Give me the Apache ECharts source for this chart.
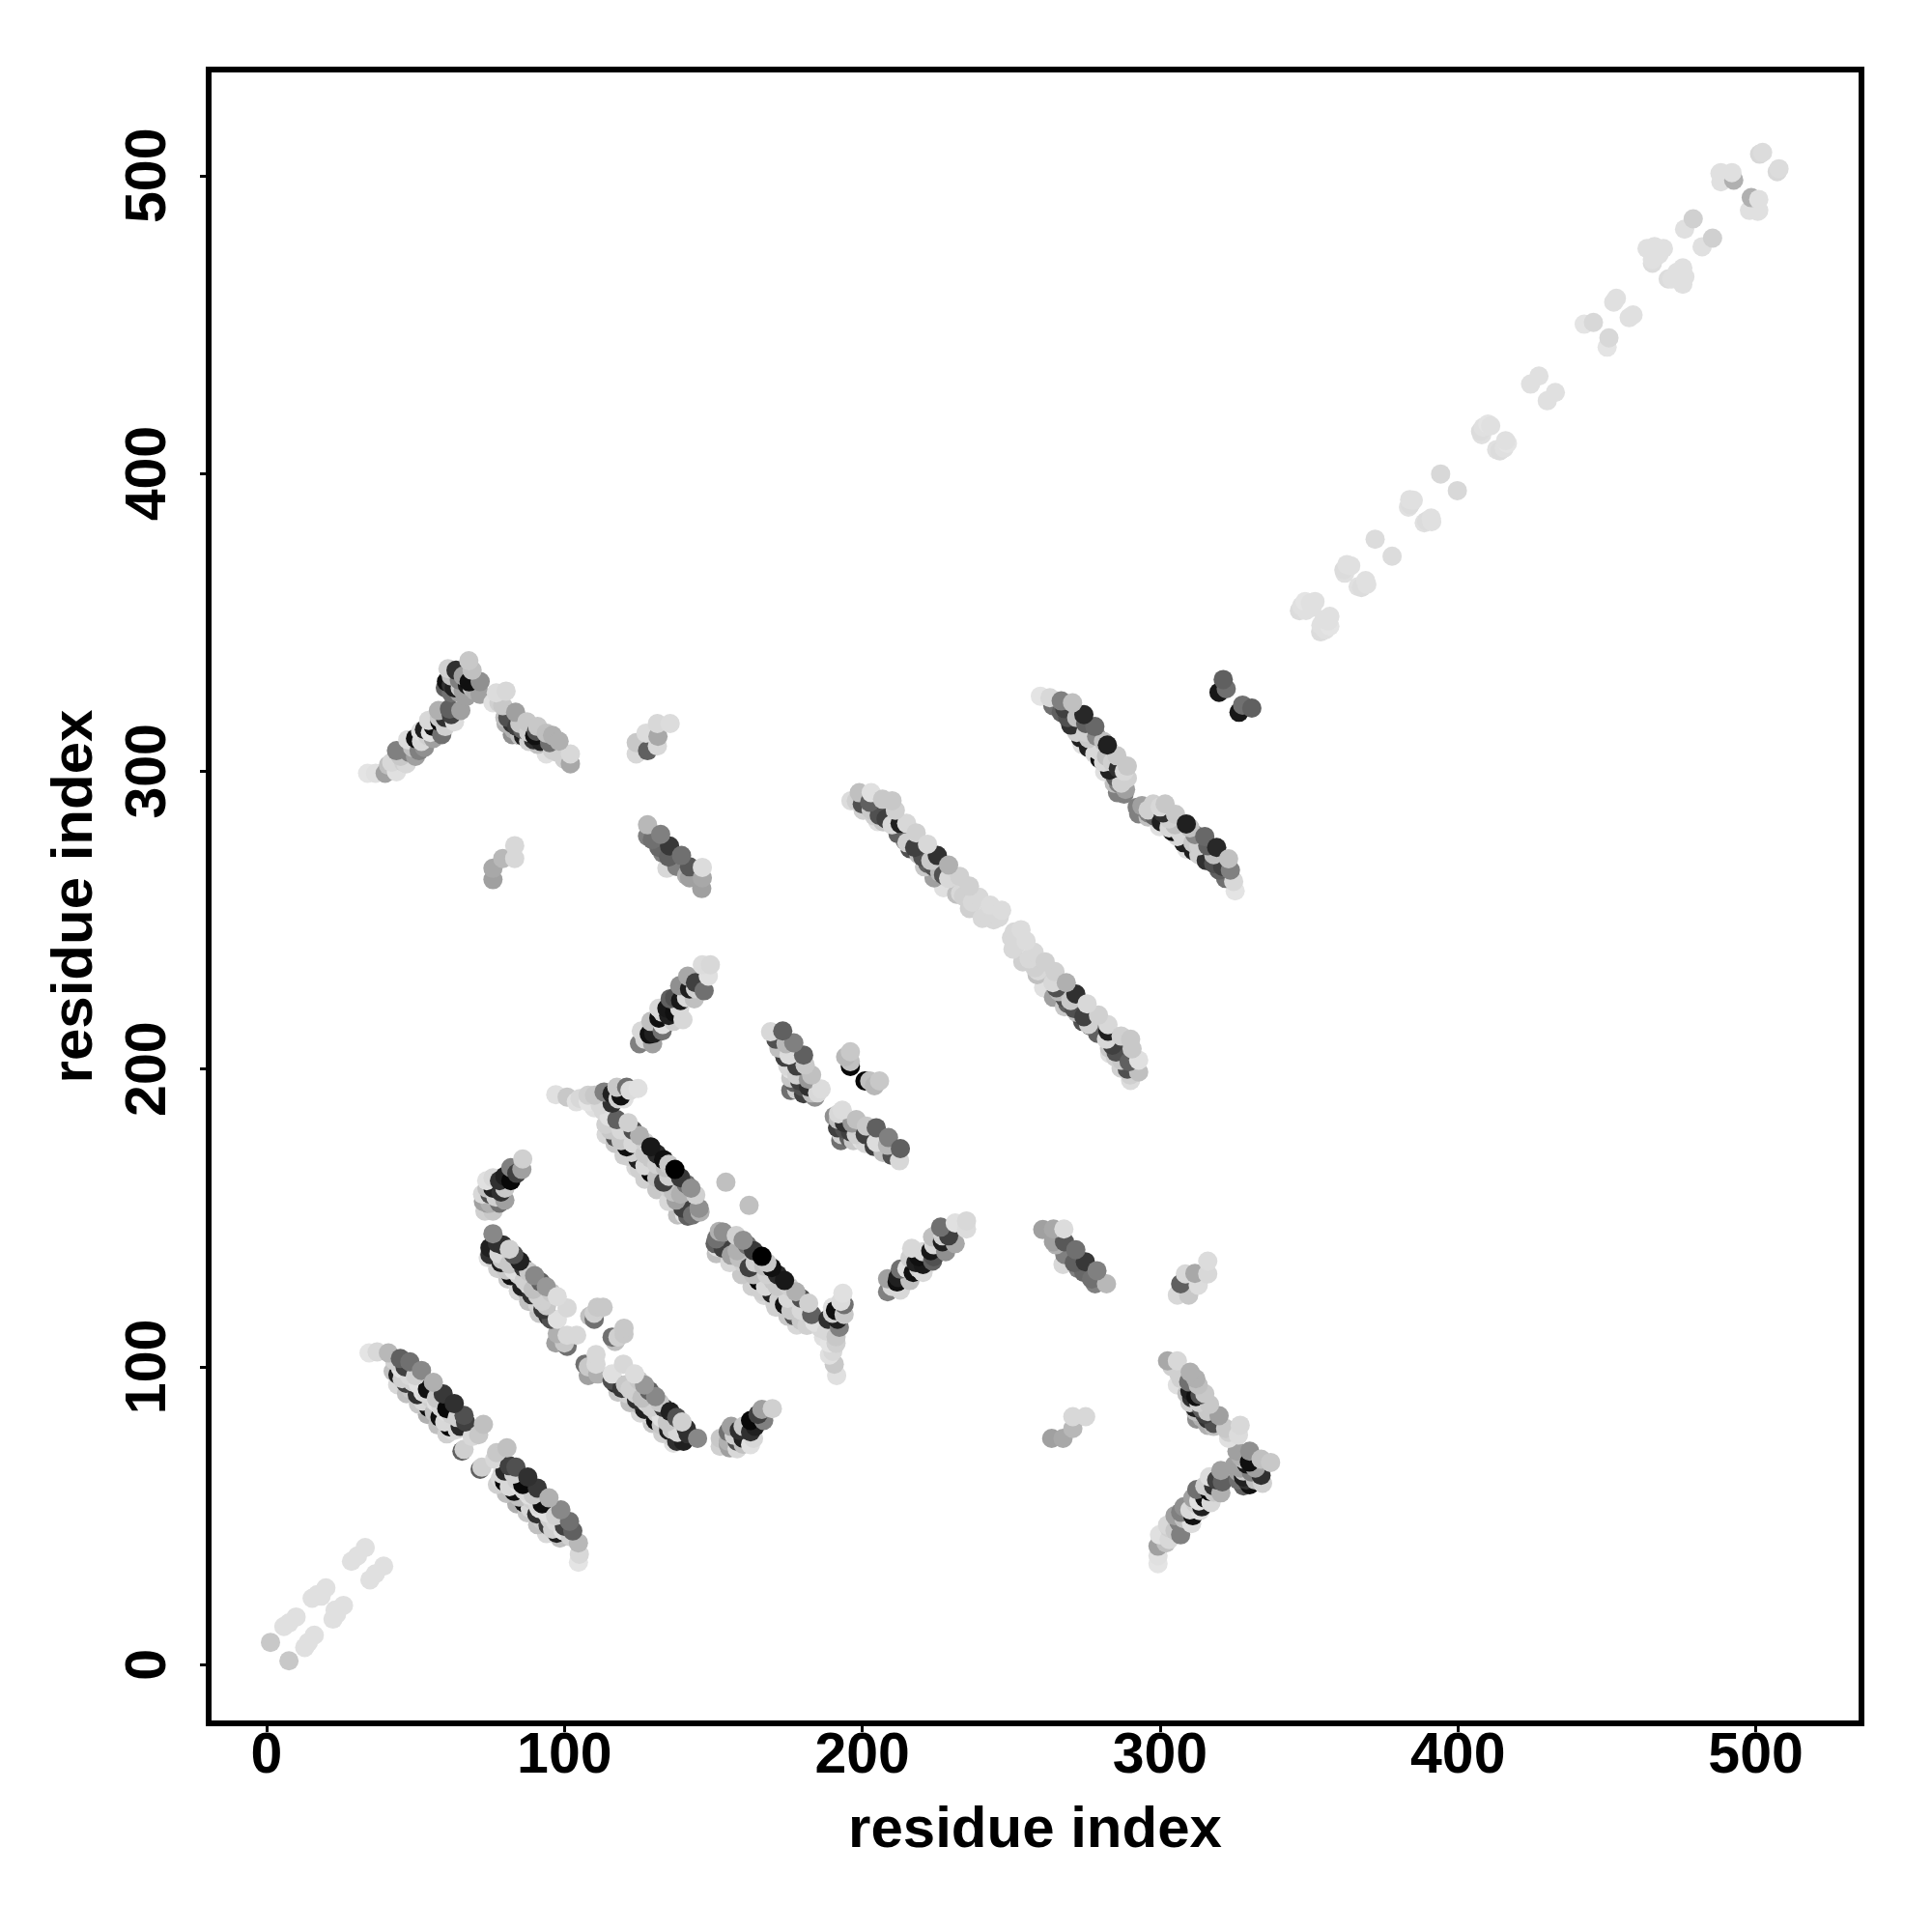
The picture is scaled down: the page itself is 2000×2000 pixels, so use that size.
<!DOCTYPE html>
<html><head><meta charset="utf-8">
<style>html,body{margin:0;padding:0;background:#fff}#c{width:2000px;height:2000px}</style>
<script src="https://cdn.jsdelivr.net/npm/echarts@6/dist/echarts.min.js"></script>
</head><body><div id="c"></div>
<script>
// each contact: [residue i, residue j, shade 0-255]; the map is symmetric so each contact is listed once
const tickLabels = [0,100,200,300,400,500];
const strandA = [
[44,94,0xd8],[47,91,0xc0],[51,87.5,0xc8],[54,84,0xb0],[57.5,80.5,0xc0],[60.5,77.5,0xd0],
[44.1,97.4,0x20],[46.8,94.5,0x40],[50.6,90.7,0x30],[54.4,86.4,0x10],[58.2,83.1,0x10],[61.4,79.9,0x05],
[43,102,0xd0],[45,99.5,0xe0],[48,97,0xd8],[51,94,0xe0],[53.6,91,0xd8],[57,88,0xe0],[60,85,0xe0],[63,82,0xd8],
[46.5,100,0x40],[50,97,0xd0],[54,92.5,0x10],[57,89.5,0xc8],[60.5,86,0x08],[64,83,0xd0],
[34.4,104.7,0xe4],[37.1,105,0xd8],[40.9,104.7,0xb8],[44.9,102.8,0x60],[48.1,101.7,0x70],[52,98.8,0x88],[56,94.8,0xb0],[59.3,90.9,0x38],[63,87.7,0x30],[66.3,83.7,0x50],[66.8,81.5,0x40],
[72.8,80.7,0xc0],[71.2,77.2,0xc8],[69,76.6,0xd8],[65.6,71.7,0x60],[66.3,72.3,0xd0],
[42.5,98.5,0xc0],[45.5,96,0xd0],[48.5,92.5,0xc8],[52.5,88.5,0xd8],[56.3,84.8,0xc0],[59.8,81.5,0xd8],[62.5,78.5,0xd8],[49,95,0xd0],[52.5,91.5,0xe0],[55.5,89,0xd0],[58.5,86.5,0xd8],[62,84,0xd0],[65,80,0x28],[64,79,0xd8]];
const strandB = [
[74.4,136.6,0xe0],[77.6,133,0xd0],[81,129.5,0xc8],[84.5,125.5,0xd8],[88,122,0xc0],[91.5,118,0xc8],
[75,137.7,0x30],[75,140,0x20],[78.7,135,0x20],[82,130.6,0x10],[85.7,126.9,0x20],[89,124.2,0x30],[92.8,119.3,0x38],
[78,138,0xd8],[81.5,134.5,0xc8],[84.5,131,0xd0],[88,127.5,0xd8],[91,124,0xd0],[94,120.5,0xc8],
[76,144.7,0x88],[79.3,140.9,0x30],[83,137.7,0x50],[86.3,133.3,0x38],[90,130.6,0x88],[93.9,126.9,0x98],[97.6,123.6,0xdc],[100.9,119.8,0xd8],[97.6,116,0xe0],
[97.1,108,0xa0],[100.9,106.9,0x70],[100,108,0xc8],[97.6,111.2,0xb0],[100.9,110.6,0xd8],[104.1,110.6,0xd8],
[76.5,136,0xd0],[80.5,132.5,0xc8],[84,128.5,0xd8],[87.5,125,0xc0],[91,121,0xd0],[94.5,117,0x30],[95.5,116,0x50],[79,136,0xc8],[83,132.5,0xe0],[86.5,129,0xd0],[89.5,126,0xc0],[92.5,122,0xd0],[77.5,141.5,0x30],[81.5,139.5,0xd0],[85,135.5,0x20],[88,132,0xc8],[92,128.5,0x60],[95.5,125,0xc8]];
const spurB = [[110,116,0x70],[110,118,0xd0],[111,120,0xc8],[113,120,0xc8],[108.5,117,0xc0]];
const strandD = [[76,152.3,0xc8],[73.3,152.3,0xd0],[72.8,155.5,0xa0],[75,155,0xb0],[78.2,155,0x70],[72.5,158,0xd8],[75,158,0x50],[78.7,158.7,0x30],[73.9,162.5,0xe0],[78.2,162.5,0x30],[82,162.5,0x08],[82,166.9,0x80],[85.7,166.3,0xa0],[86,169.8,0xd0],
[74,160,0xc0],[76,160,0x20],[80,160,0xc8],[84,165,0x40],[77,157,0xd0],[74,155,0xa0],[80,156,0xa0],[76,163.5,0xd8],[80,164,0x20]];
const strandC = [
[114,178,0xd8],[117,175,0xc8],[120,171,0xd0],[124,167,0xd8],[127,163,0xd0],[131,159.5,0xc8],[135,155.5,0xd8],[138,151,0xc0],
[113.9,181.4,0xd0],[117.1,177.1,0x50],[120.9,173.9,0x10],[124.7,169.6,0x20],[129,165.2,0x00],[133.3,162,0x40],[139.8,153.3,0x40],[141.4,150.6,0x60],
[121.4,170.6,0xd0],[125.2,166.3,0xd0],[129,170,0xc8],[133.9,166.9,0xc0],[136.6,158.7,0xc0],[140.3,151.2,0xe0],[143,151,0x70],
[97.1,191.4,0xe0],[100.9,190.6,0xc8],[105.2,190.1,0xd8],[107.9,191.2,0xd0],[110.1,191.2,0xc8],[113.3,192.3,0x80],[116,191.7,0x20],[117.6,193.9,0xc8],[120.9,193.9,0x70],[122,192.8,0xdc],[124.7,193.5,0xe0],
[110,187,0xe0],[113,186,0xd8],[115,184,0xe0],
[117.6,183,0x60],[121.4,182,0xd0],[125.2,177.7,0xb0],[129,173.9,0x18],[133.3,169.6,0x10],[137.1,166.3,0x00],[140.9,161.4,0x70],[144.1,157.7,0xd0],[145.2,153.3,0x90],[145.5,152,0xb0],
[115.5,179.5,0xc8],[119,176,0xc8],[122.5,172,0xd0],[127,167.5,0xd8],[131,163.5,0xc0],[135,160,0xd0],[137.5,156,0xa0],[119,179.5,0xd8],[123,175,0xd8],[127,171.5,0xc8],[131,168,0xd0],[135,164,0xd0],[139,158,0xb0],[123,179.5,0x50],[127,175.5,0xd0],[131,171.5,0x28],[135,168,0xc8],[139,163.5,0x38],[142.5,160,0x90],
[104,189,0xe0],[108,189,0xe4],[112,188,0xd8],[116,188.5,0x30],[118,190,0xd0],[120,190,0xe0],[119,191,0x10]];
const spurC = [[154.2,162,0xc0]];
const strandE = [
[125.2,208.5,0x80],[129.6,208.5,0xa0],[128.5,211.7,0x10],[125.8,212.8,0xd8],[132.8,212.8,0x70],[129,216,0xc0],[131.7,217.1,0x10],[136.6,216,0xd0],[139.8,216.6,0xd8],[134.4,220.4,0x18],[131.7,220.4,0xd8],[138.7,220.4,0xd8],[135.5,223.6,0x60],[143.6,223.6,0xc0],[142,226.9,0x20],[146.9,226.3,0x70],[138.7,228,0x90],[141.4,231.2,0xa8],[148.3,231.2,0xe0],[146.3,235,0xdc],[149,235,0xd8],
[127,210,0xd8],[130,212,0x20],[133,215,0xe0],[135,218,0x20],[137,219,0x10],[139,223,0x18],[141,224,0xd8],[144,227,0xd0],[144,229,0x40],[137,224,0x50],[133,219,0xd0]];
const strandF = [
[176,192.8,0x70],[180.3,191.7,0x40],[184.1,190.6,0x90],[177,195.5,0x60],[186.2,193.3,0xdc],[181.9,196.6,0x98],[178,193,0xd0],
[176,199.8,0xe0],[180.8,201.4,0xc8],[175.4,204.7,0xdc],[180.3,204.7,0x60],[174.4,208.5,0xb8],[177,208.8,0x80],[169.2,212.5,0xd8],[173.3,212.8,0x60],
[171,210,0x50],[172,207,0xc0],[174,204,0x40],[175,201,0xd8],[178,201,0x40],[176,197,0xc8],[178,198,0xd0],[180,194,0x50],[183,192,0xc0],[179,196,0x40],[182,194,0x30],[183,198,0xc0],[185,192,0xd8]];
const spurF = [[196,200.9,0x08],[196,202.5,0xc0],[194.4,204.1,0xb8],[196,205.8,0xc8]];
const strandG = [
[200.3,286.9,0xd0],[205.2,283.1,0xe0],[202.5,289.6,0x60],[205.7,285.2,0x50],[212.7,282.5,0x20],[214.4,276.6,0x80],[217.6,274.4,0x40],[220.3,271.2,0x50],[220.9,267.9,0xc8],[224.1,267.9,0x50],[224.1,264.2,0xa0],[227.3,265.2,0x50],[227.3,260.9,0xe0],[231.7,258.7,0xc0],[236,253.9,0xd0],[240.3,250.6,0xd8],[244.1,250.1,0xd8],
[196.2,290.1,0xdc],[199,292.8,0xc0],[203,292.8,0xe0],[206.8,290.6,0xc8],[210,290.1,0xc8],[211.1,286.9,0xd0],[214.9,282.5,0xd8],[218.1,279.3,0xd0],[221.9,275.5,0xd8],[225.2,271.7,0x30],[229,268.5,0xb0],[232.7,264.7,0xd0],[236,261.4,0xd0],[239.2,257.7,0xd8],[243,255,0xdc],[246.8,253.3,0xdc],
[198,290,0xd0],[200,289,0x50],[203,287,0xc8],[207,283,0xc8],[208,284,0x40],[210,282,0xd8],[212,279,0x60],[215,276,0xd0],[216,274,0x50],[219,272,0xc0],[222,269,0x60],[223,270,0xc8],[226,266,0xb8],[229,264,0xd8],[233,259,0xd8],[234,258,0xd0],[237,256,0xd8],[242,252,0xd8],[246,251,0xd8],[204,285,0xd0]];
const strandH = [[134.4,267.4,0xd8],[127.9,278.2,0x80],[131.7,274.4,0x68],[135,271.2,0x60],[137.7,268,0x80],[142,264.2,0xa0],[146.1,260.6,0xa0],[146.3,264.2,0xa8],[127.9,282,0xb8],[132.3,278.8,0x80],[135.3,274.9,0x38],[139.3,271.7,0x70],[142,267.9,0x58],[146.3,267.7,0xdc],[129.5,277,0x70],[133,272.5,0x80],[141,265,0xb0]];
const strandI = [[76,263.6,0xa0],[76,267.4,0xa8],[79.3,270.7,0xb8],[83.3,270.7,0xd8],[83.3,275,0xd8]];
const strandJ1 = [
[33.9,299.3,0xe4],[36.6,299.3,0xe0],[39.8,299.3,0xa0],[40.9,302,0xc0],[43.6,299.8,0xe0],[46.9,302.5,0xd8],[43.6,306.9,0x80],[47.9,306.3,0x80],[47.4,310.6,0xdc],[51.2,306.9,0x80],[50,311,0x10],[51.7,313.4,0xe0],[58.8,312.3,0x70],[54.4,317.1,0xd8],[58.2,316.6,0x08],[63.1,316.6,0xdc],[57.7,320.4,0xb0],[61.4,320.9,0x60],[65.2,320.4,0xa0],
[62,326.3,0x70],[64.7,326.3,0xa0],[60.4,330.1,0x10],[64.7,330.6,0x80],[67.4,329,0x18],[60.9,334.4,0xd0],[63.6,333.9,0x30],[71.7,325.8,0xa0],[69,333.9,0xc0],[71.7,330.1,0x90],[67.9,337.1,0xc8],
[42,303,0xd8],[45,305,0xc8],[46,303,0xd0],[49,308,0xc0],[50,305,0xa0],[52,310,0xd8],[53,308,0x90],[54,312,0xd0],[56,311,0xa0],[53,314,0x20],[56,315,0x10],[55,313,0xe0],[58,318,0xc8],[60,318,0x30],[60,315,0xd0],[62,319,0x40],[62,329,0x30],[62,332,0xc0],[60,328,0x60],[63,328,0x20],[65,328,0xc8],[66,332,0xa0],[66,327,0xa0],[68,330,0x10],[69,328,0xc0],[70,327,0xb0],[67,325,0xa0]];
const strandJ2 = [
[80.4,316,0xb0],[82.5,312.3,0x90],[82.5,316,0x30],[86.3,311.7,0x20],[89.6,310.6,0x30],[93.9,305.8,0xe0],[97.7,306.3,0xd0],[102,302.5,0xa8],
[77.1,326.3,0xdc],[79.3,322,0xc8],[80.4,326.9,0xd8],[83.6,319.8,0xa0],[87.4,316.6,0xc8],[90.6,313.4,0x50],[93.9,312.8,0xc0],[95,309.6,0x70],[98.2,310.1,0xb0],[102,305.8,0xd8],
[76,323,0xe0],[78,323,0xd0],[81,318,0x50],[80,318,0xc0],[83,314,0xb0],[84,315,0x40],[85,312,0xc0],[85,316,0xc8],[86,314,0x60],[88,313,0xd0],[88,310,0xd0],[91,309,0xc0],[92,310,0x20],[90,312,0x10],[96,307,0xd0],[100,304,0xd0],[91,315,0xc8],[96,312,0xb0]];
const strandK = [[124.1,305.8,0xd8],[124.1,309.6,0xc8],[127.9,306.9,0x60],[131.2,308.5,0xd8],[127.4,312.8,0xdc],[131.4,311.7,0xa8],[131.2,316,0xd8],[135.5,316,0xdc]];
const strandL = [
[273.8,309,0xe0],[278.1,305.8,0xd8],[281.4,299.8,0xe0],[284.6,296,0xc0],[285.7,292.8,0x80],
[266.8,319.8,0x60],[270,315.5,0x30],[273.3,311.2,0x20],[276,307.9,0x20],[279.8,304.1,0x10],[283,300.4,0x20],
[259.8,325.2,0xe4],[263,324.7,0xd8],[266.8,323.6,0x80],[270.6,323,0xc0],[274.4,319,0x28],[278.1,315,0x68],[278.7,311.7,0x88],[282.3,308.8,0x20],[285.5,305.2,0xc8],[289,301.7,0xc8],[289,297.7,0xd0],[287.9,292.3,0x80],[288.4,293.9,0xa0],
[264,322,0x70],[268,321,0x40],[269,318,0x50],[272,318,0xc0],[272,313,0xd0],[275,313,0xd0],[276,311,0xc8],[275,316,0x60],[279,307,0xd8],[281,303,0xd8],[282,305,0xc0],[284,303,0xd0],[281,310,0xc0],[284,299,0xd0],[286,301,0x30],[285,298,0x60],[287,296,0xd0],[286,296,0x80],[288,300,0xd8]];
const strandM = [[319.8,326.5,0x18],[322.2,327.7,0x70],[321.2,330.8,0x60]];
const nearDiagonal = [
[1.3,7.5,0xc8],[5.8,12.8,0xe0],[7.5,14,0xe0],[9.9,16,0xe0],[15.3,22.3,0xe0],[17,23.5,0xe0],[18.3,23,0xe0],[19.9,25.8,0xe0],[28.5,34.7,0xe0],[30.5,36.5,0xe0],[33.1,39.3,0xe0],
[346.8,353.9,0xdc],[347.5,355.5,0xe0],[348.7,357,0xe4],[349,354,0xe0],[350.5,356.5,0xe0],[351,355,0xe0],[352,357,0xe0],[361.7,367.6,0xdc],[362,366.5,0xe0],[362.7,369.4,0xe0],[364,369,0xe0],[372.2,377.9,0xdc],[383.4,388.7,0xe0],[384,389.5,0xdc],[383.8,391.2,0xe0],[385,391,0xe0],[394.2,399.8,0xd8],[407.6,414.1,0xdc],[408,413,0xe0],[408.5,415.5,0xe0],[410.1,416.6,0xe4],[411,416,0xe0],[424.4,430,0xe0],[427.2,432.7,0xe0],[442.4,450.1,0xe4],[445.5,450.7,0xd8],[452.3,457.5,0xe0],[453.2,458.8,0xe0],[463.5,475.5,0xe0],[465.3,470.6,0xdc],[465.3,471.8,0xe0],[466,476.2,0xe0],[467.5,473.5,0xe0],[469,475.5,0xe0],[476.1,482,0xe0],[479,485.5,0xd0],[488,500.7,0xe0],[488.3,497.9,0xe0],[488.3,501,0xe0],[492,501,0xe0],[492.6,498.5,0xb0],[501.3,507.2,0xd8],[502.3,507.8,0xdc]];

const contacts = [].concat(strandA,strandB,spurB,strandC,spurC,strandD,strandE,strandF,spurF,strandG,strandH,strandI,strandJ1,strandJ2,strandK,strandL,strandM,nearDiagonal);
const points = [];
contacts.forEach(c => { points.push([c[0],c[1],c[2]]); points.push([c[1],c[0],c[2]]); });
points.sort((a,b) => (a[0]+a[1]) - (b[0]+b[1]));

const FONT = '"Liberation Sans", Arial, sans-serif';
const axisCommon = {
  type:'value', name:'residue index', nameLocation:'middle',
  min:-19.46, max:535.5, splitLine:{show:false},
  axisLine:{show:false,onZero:false},
  axisTick:{show:true, length:9, inside:false, customValues:tickLabels, lineStyle:{color:'#000',width:3}},
  nameTextStyle:{fontFamily:FONT,fontWeight:'bold',fontSize:60,color:'#000'}
};
const chart = echarts.init(document.getElementById('c'),null,{renderer:'canvas'});
chart.setOption({
  animation:false, backgroundColor:'#fff',
  grid:{left:216,top:72,width:1711,height:1712,show:true,borderColor:'#000',borderWidth:6,backgroundColor:'transparent'},
  xAxis:Object.assign({},axisCommon,{nameGap:81,
    axisLabel:{show:true,customValues:tickLabels,margin:5,fontFamily:FONT,fontWeight:'bold',fontSize:59,color:'#000',hideOverlap:false}}),
  yAxis:Object.assign({},axisCommon,{min:-19.7,max:535.6,nameGap:108,nameRotate:90,
    axisLabel:{show:true,customValues:tickLabels,rotate:90,margin:32,fontFamily:FONT,fontWeight:'bold',fontSize:59,color:'#000',hideOverlap:false}}),
  series:[{type:'scatter',data:points,symbol:'circle',symbolSize:20,silent:true,large:false,clip:true,progressive:0,
    itemStyle:{opacity:1,color:p=>{const g=p.value[2];return 'rgb('+g+','+g+','+g+')';}}}]
});
</script></body></html>
